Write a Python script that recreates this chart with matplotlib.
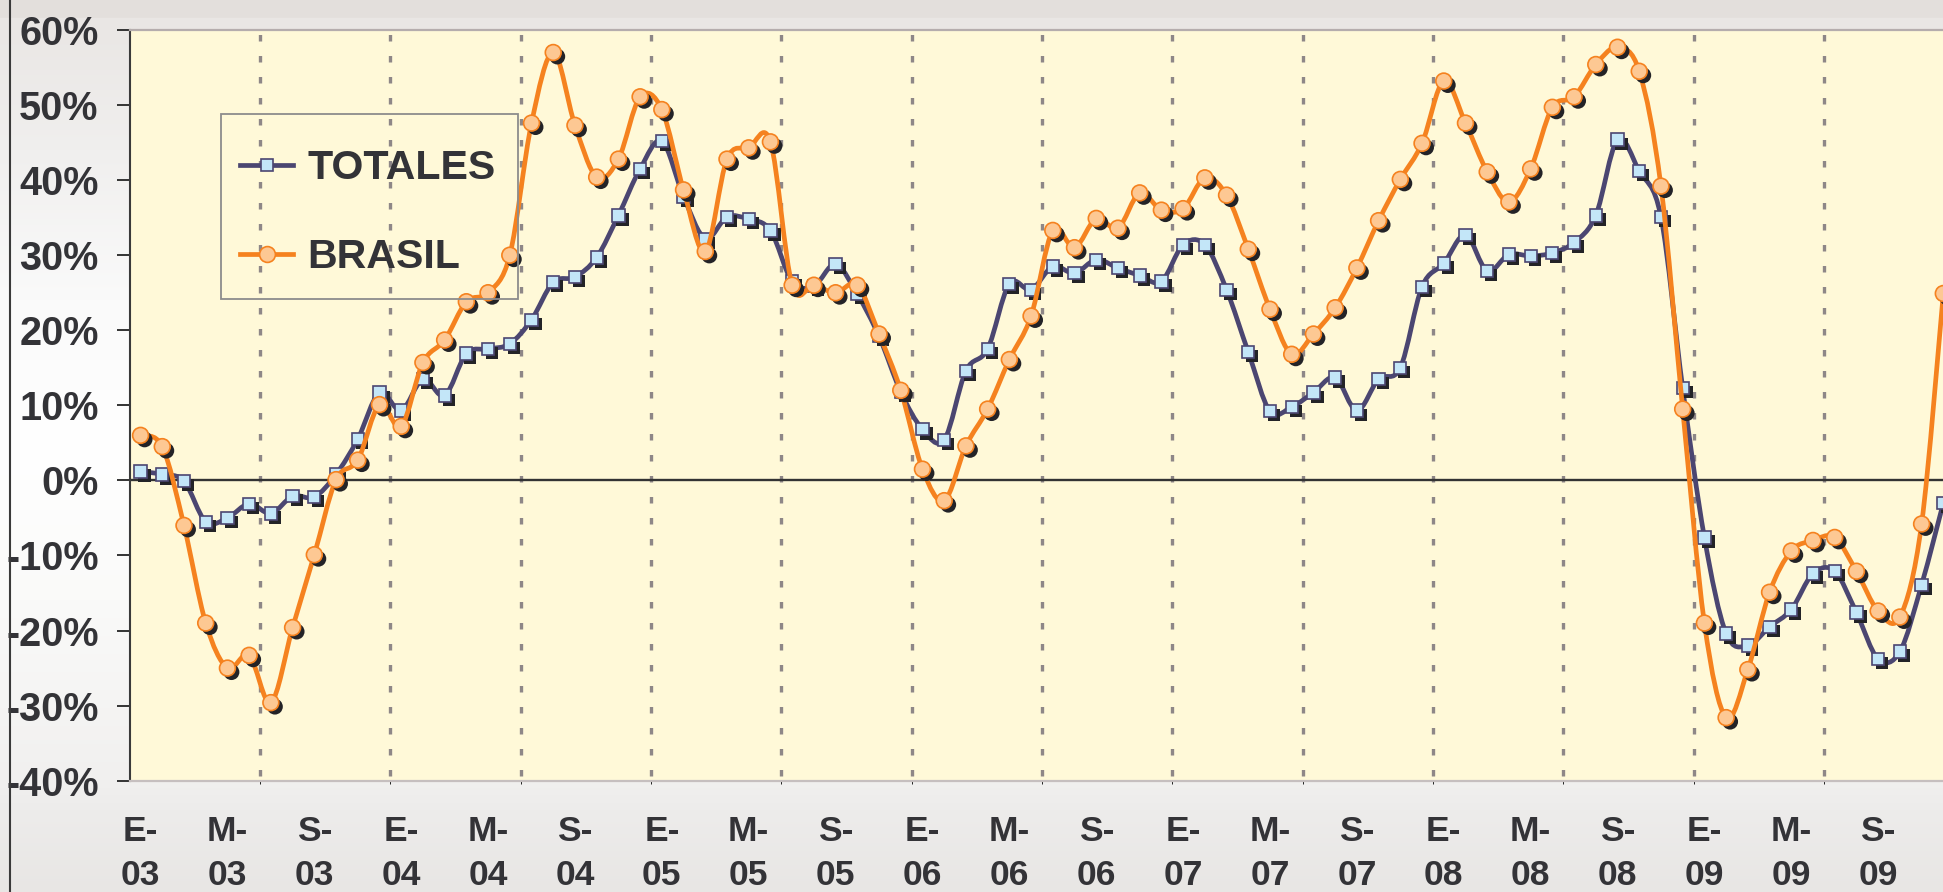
import numpy as np
import matplotlib
matplotlib.use('Agg')
import matplotlib.pyplot as plt
import matplotlib.patheffects as pe
from matplotlib.path import Path
from matplotlib.patches import PathPatch, Rectangle
from matplotlib.lines import Line2D

# monthly data, Jan-03 .. Dec-09 (% change)
totales = [1.2, 0.8, -0.1, -5.5, -5.0, -3.1, -4.4, -2.1, -2.2, 0.8, 5.5, 11.7,
           9.3, 13.5, 11.3, 16.9, 17.5, 18.2, 21.4, 26.4, 27.1, 29.7, 35.3, 41.5,
           45.2, 37.8, 32.2, 35.1, 34.8, 33.3, 26.5, 25.9, 28.8, 24.8, 19.2, 11.8,
           6.8, 5.4, 14.6, 17.5, 26.2, 25.4, 28.5, 27.6, 29.4, 28.3, 27.3, 26.5,
           31.4, 31.4, 25.4, 17.1, 9.2, 9.8, 11.7, 13.7, 9.3, 13.5, 15.0, 25.8,
           28.9, 32.7, 27.9, 30.1, 29.9, 30.3, 31.7, 35.3, 45.4, 41.2, 35.1, 12.3,
           -7.6, -20.4, -22.0, -19.5, -17.2, -12.4, -12.1, -17.6, -23.8, -22.8, -13.9, -3.0]

brasil = [6.0, 4.5, -6.0, -19.0, -25.0, -23.3, -29.6, -19.6, -9.9, 0.1, 2.7, 10.1,
          7.2, 15.7, 18.7, 23.8, 25.0, 30.0, 47.6, 57.0, 47.3, 40.4, 42.8, 51.1,
          49.4, 38.7, 30.5, 42.8, 44.3, 45.1, 26.0, 26.0, 25.0, 26.0, 19.5, 12.0,
          1.5, -2.7, 4.6, 9.5, 16.1, 21.9, 33.3, 31.0, 34.9, 33.6, 38.3, 36.0,
          36.2, 40.3, 38.0, 30.8, 22.8, 16.8, 19.5, 23.0, 28.3, 34.6, 40.1, 44.9,
          53.2, 47.6, 41.1, 37.1, 41.5, 49.7, 51.1, 55.4, 57.7, 54.5, 39.2, 9.5,
          -19.0, -31.6, -25.2, -14.9, -9.4, -8.0, -7.6, -12.1, -17.4, -18.2, -5.8, 24.9]

tick_labels = ['E-\n03', 'M-\n03', 'S-\n03', 'E-\n04', 'M-\n04', 'S-\n04',
               'E-\n05', 'M-\n05', 'S-\n05', 'E-\n06', 'M-\n06', 'S-\n06',
               'E-\n07', 'M-\n07', 'S-\n07', 'E-\n08', 'M-\n08', 'S-\n08',
               'E-\n09', 'M-\n09', 'S-\n09']
y_ticks = [-40, -30, -20, -10, 0, 10, 20, 30, 40, 50, 60]

plt.rcParams['font.family'] = ['Liberation Sans', 'DejaVu Sans']
plt.rcParams['font.weight'] = 'bold'

TXT = '#333337'
PURPLE = '#4B4671'
ORANGE = '#F5821F'
LW = 3.4


def smooth_path(x, y):
    # Excel-like smoothed line (cubic bezier through every point)
    pts = np.column_stack([x, y]).astype(float)
    n = len(pts)
    verts = [pts[0]]
    codes = [Path.MOVETO]
    for i in range(n - 1):
        p0 = pts[i - 1] if i > 0 else pts[i]
        p1 = pts[i]
        p2 = pts[i + 1]
        p3 = pts[i + 2] if i + 2 < n else pts[i + 1]
        verts += [p1 + (p2 - p0) / 6.0, p2 - (p3 - p1) / 6.0, p2]
        codes += [Path.CURVE4] * 3
    return Path(verts, codes)


W, H = 1943, 892
fig = plt.figure(figsize=(W / 100, H / 100), dpi=100)

# background gradient of the chart area
bg = fig.add_axes([0, 0, 1, 1], zorder=-10)
bg.axis('off')
stops_y = [0, 17, 18, 30, 150, 300, 450, 600, 780, 810, 892]
stops_c = ['#E3DFDC', '#E4E0DD', '#E9E6E4', '#EAE7E5', '#F0EFEE', '#FAFAFA',
           '#FFFFFF', '#FAFAF9', '#F1F0EF', '#EDECEB', '#E8E6E4']
rgb = np.array([matplotlib.colors.to_rgb(c) for c in stops_c])
yy = np.arange(H)
grad = np.stack([np.interp(yy, stops_y, rgb[:, k]) for k in range(3)], axis=-1)
bg.imshow(grad[:, None, :], extent=[0, 1, 0, 1], aspect='auto', interpolation='bilinear')
bg.set_xlim(0, 1)
bg.set_ylim(0, 1)
fig.add_artist(Line2D([9.5 / W, 9.5 / W], [0, 1], transform=fig.transFigure,
                      color='#3A3A3A', lw=1.5))

left, top, bottom = 129.7, 30.0, 780.7
mw = 21.72
ax = fig.add_axes([left / W, (H - bottom) / H, 84 * mw / W, (bottom - top) / H])
ax.set_facecolor('#FFF9D8')

x = np.arange(len(totales))
ax.set_xlim(-0.5, len(totales) - 0.5)
ax.set_ylim(-40, 60)

# dotted vertical grid every 6 months
ax.set_xticks(np.arange(5.5, len(totales) - 1, 6), minor=True)
ax.grid(which='minor', axis='x', color='#8E8787', lw=2.4,
        linestyle=(4.8, (1.95, 4.35)))
ax.axhline(0, color='#333333', lw=1.7, zorder=2)

shadow = [pe.SimplePatchShadow(offset=(2.9, -2.9), shadow_rgbFace='#232327', alpha=1),
          pe.Normal()]

# TOTALES
ax.add_patch(PathPatch(smooth_path(x, totales), facecolor='none', edgecolor=PURPLE,
                       lw=LW, joinstyle='round', capstyle='round', zorder=3))
ax.plot(x, totales, ls='none', marker='s', ms=8.8, mfc='#C3E6F8', mec=PURPLE, mew=1.2,
        zorder=4, path_effects=shadow)
# BRASIL
ax.add_patch(PathPatch(smooth_path(x, brasil), facecolor='none', edgecolor=ORANGE,
                       lw=LW, joinstyle='round', capstyle='round', zorder=5))
ax.plot(x, brasil, ls='none', marker='o', ms=11.4, mfc='#FDC893', mec=ORANGE, mew=1.2,
        zorder=6, path_effects=shadow)

ax.set_xticks(x[::4])
ax.set_xticklabels(tick_labels, linespacing=1.4)
ax.set_yticks(y_ticks)
ax.set_yticklabels([f'{v}%' for v in y_ticks])
ax.tick_params(axis='x', length=0, pad=25, labelsize=25.5, labelcolor=TXT)
ax.tick_params(axis='y', direction='out', length=9.4, width=1.4, color='#333333',
               pad=13, labelsize=28.5, labelcolor=TXT)

ax.spines['right'].set_visible(False)
ax.spines['left'].set_color('#3A3A3A')
ax.spines['left'].set_linewidth(1.5)
ax.spines['top'].set_color('#B5ADAD')
ax.spines['top'].set_linewidth(1.6)
ax.spines['bottom'].set_color('#C6BFBF')
ax.spines['bottom'].set_linewidth(1.6)

# legend: box drawn separately so the padding can match
handles = [Line2D([], [], color=PURPLE, lw=LW, marker='s', ms=8.8, mfc='#C3E6F8',
                  mec=PURPLE, mew=1.2),
           Line2D([], [], color=ORANGE, lw=LW, marker='o', ms=11.4, mfc='#FDC893',
                  mec=ORANGE, mew=1.2)]
leg = ax.legend(handles, ['TOTALES', 'BRASIL'], loc='upper left',
                bbox_to_anchor=(240 / W, (H - 149) / H), bbox_transform=fig.transFigure,
                borderaxespad=0, fontsize=29.6, handlelength=1.3, handletextpad=0.34,
                borderpad=0, labelspacing=1.25, frameon=False, numpoints=1)
for t in leg.get_texts():
    t.set_color(TXT)
leg.set_zorder(10)
fig.add_artist(Rectangle((220.6 / W, (H - 298.6) / H), (518 - 220.6) / W, 184.6 / H,
                         transform=fig.transFigure, facecolor='none',
                         edgecolor='#8C8C8C', lw=1.3, zorder=10))

fig.savefig('out.png', dpi=100)
